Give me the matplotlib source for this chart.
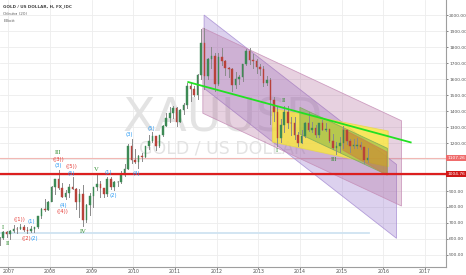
import matplotlib
matplotlib.use("Agg")
import matplotlib.pyplot as plt
import matplotlib.transforms as mtransforms
from matplotlib.patches import Polygon, Rectangle

# ---- data -------------------------------------------------------------
start_year = 2006
start_month = 10  # first candle: Oct 2006
first_open = 599
closes = [604, 646, 632,
          650, 665, 662, 678, 659, 650, 665, 672, 743, 789, 783, 834,
          923, 972, 916, 864, 886, 928, 914, 833, 880, 718, 815, 869,
          927, 942, 916, 883, 978, 926, 955, 955, 1001, 1040, 1182, 1096,
          1081, 1118, 1113, 1180, 1212, 1244, 1181, 1248, 1307, 1357, 1386, 1421,
          1332, 1409, 1439, 1556, 1536, 1500, 1628, 1828, 1620, 1725, 1746, 1566,
          1737, 1711, 1669, 1664, 1561, 1598, 1614, 1691, 1773, 1719, 1714, 1675,
          1663, 1578, 1597, 1472, 1393, 1234, 1312, 1396, 1327, 1323, 1253, 1202,
          1244, 1326, 1284, 1296, 1250, 1322, 1282, 1287, 1210, 1171, 1182, 1199,
          1284, 1213, 1183, 1183, 1190, 1172, 1095, 1107]
highs = [610, 650, 650,
         655, 690, 672, 692, 690, 672, 680, 678, 745, 795, 848, 840,
         930, 975, 1033, 950, 905, 945, 988, 918, 910, 935, 820, 885,
         928, 1006, 962, 920, 985, 990, 960, 965, 1024, 1070, 1195, 1227,
         1162, 1126, 1137, 1180, 1249, 1266, 1244, 1250, 1310, 1388, 1424, 1431,
         1424, 1413, 1447, 1575, 1577, 1557, 1632, 1911, 1920, 1730, 1803, 1760,
         1764, 1791, 1718, 1676, 1668, 1641, 1627, 1695, 1790, 1796, 1755, 1725,
         1695, 1684, 1617, 1606, 1488, 1424, 1348, 1434, 1434, 1361, 1361, 1267,
         1280, 1332, 1392, 1331, 1315, 1325, 1345, 1323, 1290, 1255, 1205, 1238,
         1307, 1284, 1223, 1225, 1233, 1205, 1175, 1170]
lows = [560, 600, 613,
        602, 645, 636, 662, 650, 640, 645, 642, 670, 730, 775, 780,
        835, 880, 915, 860, 850, 860, 910, 786, 740, 681, 705, 753,
        800, 905, 865, 865, 870, 910, 908, 930, 947, 994, 1040, 1075,
        1073, 1044, 1087, 1112, 1162, 1204, 1157, 1176, 1243, 1307, 1330, 1357,
        1308, 1330, 1381, 1420, 1462, 1496, 1478, 1600, 1535, 1600, 1670, 1523,
        1563, 1690, 1627, 1613, 1527, 1547, 1566, 1586, 1686, 1691, 1672, 1635,
        1627, 1555, 1562, 1321, 1338, 1180, 1207, 1270, 1291, 1251, 1226, 1182,
        1200, 1238, 1277, 1268, 1240, 1240, 1280, 1273, 1205, 1160, 1131, 1142,
        1167, 1191, 1142, 1170, 1170, 1162, 1077, 1080]

last_price = 1107.26
support_level = 1004.76
blue_level = 639
blue_level_end = 2015.66

year_ticks = [2007, 2008, 2009, 2010, 2011, 2012, 2013, 2014, 2015, 2016, 2017]
price_ticks = [500, 600, 700, 800, 900, 1000, 1100, 1200, 1300, 1400, 1500,
               1600, 1700, 1800, 1900, 2000]

green_line_x = [2011.32, 2016.66]
green_line_y = [1581, 1204]

# channels: (x_left, x_right, top_left, top_right, bottom_left, bottom_right)
lavender_channel = (2011.70, 2016.32, 2000, 1066, 1542, 604)
pink_channel = (2011.67, 2016.44, 1919, 1339, 1386, 806)
yellow_channel = (2013.34, 2016.12, 1417, 1275, 1206, 1052)
green_channel = (2014.00, 2016.10, 1423, 1167, 1256, 1000)
orange_channel = (2015.03, 2016.09, 1288, 1144, 1156, 1000)

# Elliott wave labels: (text, year, price, kind)
wave_labels = [
    ("I", 2006.88, 673, "g"), ("II", 2006.98, 569, "g"),
    ("((1))", 2007.26, 719, "r"), ("(1)", 2007.54, 712, "b"),
    ("((2)", 2007.44, 604, "r"), ("(2)", 2007.63, 604, "b"),
    ("III", 2008.20, 1139, "g"), ("((3))", 2008.20, 1098, "r"),
    ("(3)", 2008.20, 1058, "b"), ("((5))", 2008.52, 1052, "r"),
    ("(5)", 2008.52, 1011, "b"), ("(4)", 2008.31, 811, "b"),
    ("((4))", 2008.31, 771, "r"), ("IV", 2008.80, 646, "g"),
    ("V", 2009.12, 1036, "g"), ("(1)", 2009.40, 1017, "b"),
    ("(2)", 2009.51, 869, "b"), ("(3)", 2009.90, 1254, "b"),
    ("(4)", 2010.08, 1011, "b"), ("(5)", 2010.44, 1292, "b"),
    ("II", 2013.62, 1464, "g"), ("I", 2013.44, 1156, "g"),
    ("III", 2014.82, 1098, "g"),
]

# ---- figure -----------------------------------------------------------
fig = plt.figure(figsize=(4.66, 2.75), dpi=100)
ax = fig.add_axes([0, 0.0303, 0.9564, 0.9697])
ax.set_xlim(2006.80, 2017.50)
ax.set_ylim(427, 2094)

for y in year_ticks:
    ax.axvline(y, color="#ededed", lw=0.6, zorder=0)
for p in price_ticks:
    ax.axhline(p, color="#ededed", lw=0.6, zorder=0)

# watermark
ax.text(2012.15, 1350, "XAUUSD", fontsize=34, color="#e3e3e3",
        ha="center", va="center", zorder=0.5)
ax.text(2012.15, 1165, "GOLD / US DOLLAR", fontsize=12.5, color="#e3e3e3",
        ha="center", va="center", zorder=0.5)

# horizontal levels
ax.plot([2006.80, blue_level_end], [blue_level, blue_level],
        color="#cfe3f1", lw=1.3, zorder=1)
ax.axhline(last_price, color="#f2b8b4", lw=0.8, zorder=1)


def channel(spec, fc, alpha, ec, z):
    x0, x1, t0, t1, b0, b1 = spec
    pts = [[x0, t0], [x1, t1], [x1, b1], [x0, b0]]
    ax.add_patch(Polygon(pts, closed=True, facecolor=fc, alpha=alpha,
                         edgecolor="none", zorder=z))
    ax.add_patch(Polygon(pts, closed=True, facecolor="none", edgecolor=ec,
                         lw=0.6, alpha=0.8, zorder=z))


channel(lavender_channel, "#9575cd", 0.33, "#a58bd3", 2)
channel(pink_channel, "#b0689a", 0.30, "#c48bb5", 2.1)
channel(yellow_channel, "#ffee33", 0.75, "#e6d84a", 2.2)
channel(green_channel, "#7cb342", 0.50, "#7aa85a", 2.3)
channel(orange_channel, "#e0531a", 0.35, "#c98050", 2.4)

# candles
n = len(closes)
opens = [first_open] + closes[:-1]
xs = [start_year + (start_month - 1 + i) / 12 + 1 / 24 for i in range(n)]
w = 1 / 12 * 0.45
for x, o, h, l, c in zip(xs, opens, highs, lows, closes):
    up = c >= o
    col = "#3d8a55" if up else "#b8423a"
    ax.plot([x, x], [l, h], color="#8a8a8a", lw=0.7, zorder=3)
    ax.add_patch(Rectangle((x - w / 2, min(o, c)), w, max(abs(c - o), 3),
                           facecolor=col, edgecolor=col, lw=0.3, zorder=3.5))

ax.plot(green_line_x, green_line_y, color="#22e022", lw=1.3, zorder=5)
ax.axhline(support_level, color="#dc1f1f", lw=1.6, zorder=5)

colors = {"g": "#2e8b2e", "r": "#e53935", "b": "#2196f3"}
for t, x, y, k in wave_labels:
    if k == "g":
        ax.text(x, y, t, fontsize=4.8, color=colors[k], ha="center", va="center",
                family="Liberation Serif", zorder=6)
    else:
        ax.text(x, y, t, fontsize=3.8, color=colors[k], ha="center", va="center",
                zorder=6)

# axes styling
for s in ["top", "left"]:
    ax.spines[s].set_visible(False)
for s in ["right", "bottom"]:
    ax.spines[s].set_color("#9e9e9e")
    ax.spines[s].set_linewidth(0.8)
ax.yaxis.tick_right()
ax.set_yticks(price_ticks)
ax.set_yticklabels([f"{p:.2f}" for p in price_ticks])
ax.set_xticks(year_ticks)
ax.set_xticklabels([str(y) for y in year_ticks])
ax.tick_params(axis="y", labelsize=3.2, colors="#555555", length=1.2, pad=1.2,
               width=0.5)
ax.tick_params(axis="x", labelsize=3.4, colors="#555555", length=1.2, pad=0.8,
               width=0.5)

# price labels on the axis
trans = mtransforms.blended_transform_factory(ax.transAxes, ax.transData)
ax.text(1.003, last_price, f"{last_price:.2f}", transform=trans, fontsize=3.2,
        color="white", va="center", ha="left", zorder=10,
        bbox=dict(boxstyle="square,pad=0.2", fc="#ef6c6c", ec="none"))
ax.text(1.003, support_level, f"{support_level:.2f}", transform=trans,
        fontsize=3.2, color="white", va="center", ha="left", zorder=10,
        bbox=dict(boxstyle="square,pad=0.2", fc="#d01818", ec="none"))

# header
fig.text(0.007, 0.978, "GOLD / US DOLLAR, H, FX_IDC", fontsize=3.0,
         color="#444444", fontweight="bold", va="center")
fig.text(0.007, 0.950, "Объём (20)", fontsize=3.0, color="#666666", va="center")
fig.text(0.007, 0.925, "Elliott", fontsize=3.0, color="#666666", va="center")

fig.savefig("out.png", dpi=100)
